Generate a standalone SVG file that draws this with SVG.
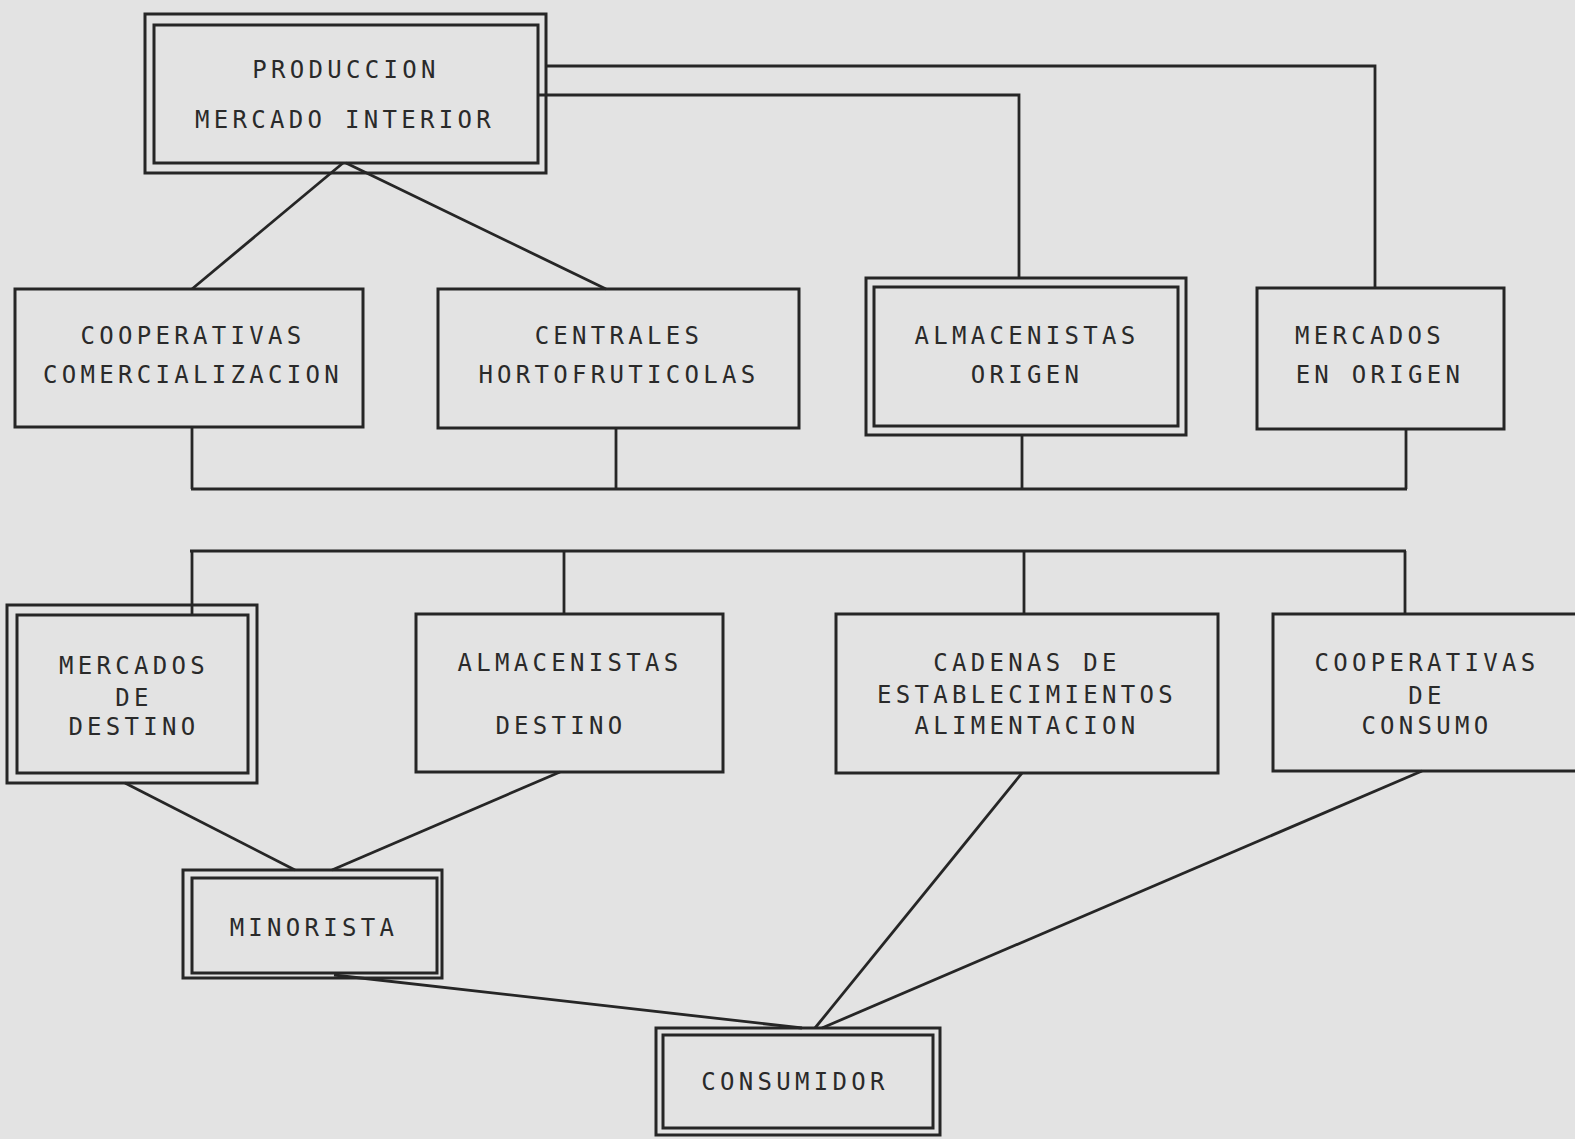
<svg xmlns="http://www.w3.org/2000/svg" width="1575" height="1139" viewBox="0 0 1575 1139">
<style>
.bx{fill:none;stroke:#262626;stroke-width:3}
.ln{fill:none;stroke:#262626;stroke-width:2.8}
.t{font-family:"DejaVu Sans Mono","Liberation Mono",monospace;font-size:24px;letter-spacing:4.3px;fill:#2a2a2a;text-anchor:middle}
</style>
<rect width="1575" height="1139" fill="#e3e3e3"/>
<g id="connectors">
<polyline class="ln" points="546,66 1375,66 1375,288"/>
<polyline class="ln" points="538,95 1019,95 1019,278"/>
<line class="ln" x1="343" y1="163" x2="192" y2="289"/>
<line class="ln" x1="346" y1="163" x2="606" y2="289"/>
<line class="ln" x1="192" y1="427" x2="192" y2="489"/>
<line class="ln" x1="616" y1="428" x2="616" y2="489"/>
<line class="ln" x1="1022" y1="435" x2="1022" y2="489"/>
<line class="ln" x1="1406" y1="429" x2="1406" y2="489"/>
<line class="ln" x1="191" y1="489" x2="1407" y2="489"/>
<line class="ln" x1="190" y1="551" x2="1406" y2="551"/>
<line class="ln" x1="192" y1="551" x2="192" y2="615"/>
<line class="ln" x1="564" y1="551" x2="564" y2="614"/>
<line class="ln" x1="1024" y1="551" x2="1024" y2="614"/>
<line class="ln" x1="1405" y1="551" x2="1405" y2="614"/>
<line class="ln" x1="125" y1="783" x2="295" y2="870"/>
<line class="ln" x1="560" y1="772" x2="332" y2="870"/>
<line class="ln" x1="334" y1="975" x2="802" y2="1028"/>
<line class="ln" x1="1022" y1="773" x2="815" y2="1028"/>
<line class="ln" x1="1422" y1="771" x2="822" y2="1028"/>
</g>
<g id="produccion">
<rect class="bx" x="145" y="14" width="401" height="159"/>
<rect class="bx" x="154" y="25" width="384" height="138"/>
<text class="t" x="346" y="78">PRODUCCION</text>
<text class="t" x="345" y="128">MERCADO INTERIOR</text>
</g>
<g id="coop-comercializacion">
<rect class="bx" x="15" y="289" width="348" height="138"/>
<text class="t" x="193" y="344">COOPERATIVAS</text>
<text class="t" x="193" y="383">COMERCIALIZACION</text>
</g>
<g id="centrales">
<rect class="bx" x="438" y="289" width="361" height="139"/>
<text class="t" x="619" y="344">CENTRALES</text>
<text class="t" x="619" y="383">HORTOFRUTICOLAS</text>
</g>
<g id="almacenistas-origen">
<rect class="bx" x="866" y="278" width="320" height="157"/>
<rect class="bx" x="874" y="287" width="304" height="139"/>
<text class="t" x="1027" y="344">ALMACENISTAS</text>
<text class="t" x="1027" y="383">ORIGEN</text>
</g>
<g id="mercados-origen">
<rect class="bx" x="1257" y="288" width="247" height="141"/>
<text class="t" x="1370" y="344">MERCADOS</text>
<text class="t" x="1380" y="383">EN ORIGEN</text>
</g>
<g id="mercados-destino">
<rect class="bx" x="7" y="605" width="250" height="178"/>
<rect class="bx" x="17" y="615" width="231" height="158"/>
<text class="t" x="134" y="674">MERCADOS</text>
<text class="t" x="134" y="706">DE</text>
<text class="t" x="134" y="735">DESTINO</text>
</g>
<g id="almacenistas-destino">
<rect class="bx" x="416" y="614" width="307" height="158"/>
<text class="t" x="570" y="671">ALMACENISTAS</text>
<text class="t" x="561" y="734">DESTINO</text>
</g>
<g id="cadenas">
<rect class="bx" x="836" y="614" width="382" height="159"/>
<text class="t" x="1027" y="671">CADENAS DE</text>
<text class="t" x="1027" y="703">ESTABLECIMIENTOS</text>
<text class="t" x="1027" y="734">ALIMENTACION</text>
</g>
<g id="coop-consumo">
<rect class="bx" x="1273" y="614" width="320" height="157"/>
<text class="t" x="1427" y="671">COOPERATIVAS</text>
<text class="t" x="1427" y="704">DE</text>
<text class="t" x="1427" y="734">CONSUMO</text>
</g>
<g id="minorista">
<rect class="bx" x="183" y="870" width="259" height="108"/>
<rect class="bx" x="192" y="878" width="245" height="95"/>
<text class="t" x="314" y="936">MINORISTA</text>
</g>
<g id="consumidor">
<rect class="bx" x="656" y="1028" width="284" height="107"/>
<rect class="bx" x="663" y="1035" width="270" height="93"/>
<text class="t" x="795" y="1090">CONSUMIDOR</text>
</g>
</svg>
